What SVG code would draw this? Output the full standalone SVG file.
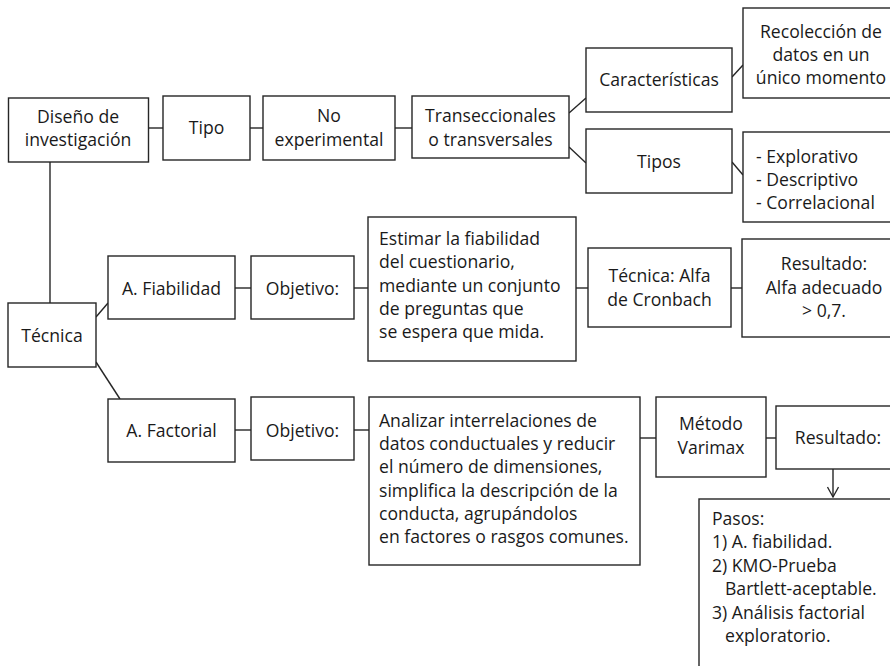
<svg xmlns="http://www.w3.org/2000/svg" width="890" height="666" viewBox="0 0 890 666">
<defs>
<style>
.b{fill:#fff;stroke:#262626;stroke-width:1.4}
.c{fill:none;stroke:#262626;stroke-width:1.4}
text{font-family:"Open Sans","Noto Sans","DejaVu Sans",sans-serif;font-size:17.6px;fill:#1a1a1a}
.m{text-anchor:middle}
</style>
<marker id="ah" viewBox="0 0 12 12" refX="11" refY="6" markerWidth="12" markerHeight="12" markerUnits="userSpaceOnUse" orient="auto">
<path d="M1,0.5 L11,6 L1,11.5" fill="none" stroke="#262626" stroke-width="1.3"/>
</marker>
</defs>
<rect width="890" height="666" fill="#fff"/>
<g id="connectors">
<line class="c" x1="148.5" y1="128" x2="163" y2="128"/>
<line class="c" x1="250" y1="128" x2="263" y2="128"/>
<line class="c" x1="395" y1="128" x2="412" y2="128"/>
<line class="c" x1="569" y1="113" x2="586" y2="98"/>
<line class="c" x1="569" y1="147" x2="586" y2="163"/>
<line class="c" x1="732" y1="77" x2="743" y2="65"/>
<line class="c" x1="732" y1="162" x2="743" y2="175"/>
<line class="c" x1="50" y1="162" x2="50" y2="303"/>
<line class="c" x1="96" y1="317" x2="108" y2="303"/>
<line class="c" x1="96" y1="362" x2="120" y2="399"/>
<line class="c" x1="235" y1="288" x2="251" y2="288"/>
<line class="c" x1="354" y1="288" x2="368" y2="288"/>
<line class="c" x1="576" y1="288" x2="588" y2="288"/>
<line class="c" x1="731" y1="288" x2="742" y2="288"/>
<line class="c" x1="235" y1="430" x2="251" y2="430"/>
<line class="c" x1="354" y1="430" x2="369" y2="430"/>
<line class="c" x1="640" y1="438" x2="656" y2="438"/>
<line class="c" x1="766" y1="438" x2="776" y2="438"/>
<line class="c" x1="833" y1="469" x2="833" y2="497" marker-end="url(#ah)"/>
</g>
<g id="diseno"><rect class="b" x="8.5" y="98" width="140" height="64"/>
<text class="m" x="78" y="123">Diseño de</text><text class="m" x="78" y="146">investigación</text></g>
<g id="tipo"><rect class="b" x="163" y="96" width="87" height="64"/>
<text class="m" x="206.5" y="134">Tipo</text></g>
<g id="noexp"><rect class="b" x="263" y="96" width="132" height="64"/>
<text class="m" x="329" y="122">No</text><text class="m" x="329" y="146">experimental</text></g>
<g id="trans"><rect class="b" x="412" y="96" width="157" height="62"/>
<text class="m" x="490.5" y="122">Transeccionales</text><text class="m" x="490.5" y="146">o transversales</text></g>
<g id="caract"><rect class="b" x="586" y="48" width="146" height="64"/>
<text class="m" x="659" y="86">Características</text></g>
<g id="recol"><rect class="b" x="743" y="8" width="156" height="90"/>
<text class="m" x="821" y="38">Recolección de</text><text class="m" x="821" y="61">datos en un</text><text class="m" x="821" y="84">único momento</text></g>
<g id="tipos"><rect class="b" x="586" y="129" width="146" height="64"/>
<text class="m" x="659" y="168">Tipos</text></g>
<g id="explor"><rect class="b" x="743" y="132" width="156" height="90"/>
<text x="756" y="163">- Explorativo</text><text x="756" y="186">- Descriptivo</text><text x="756" y="209">- Correlacional</text></g>
<g id="tecnica"><rect class="b" x="8" y="303" width="88" height="64"/>
<text class="m" x="52" y="342">Técnica</text></g>
<g id="afiab"><rect class="b" x="108" y="256" width="127" height="63"/>
<text class="m" x="171.5" y="295">A. Fiabilidad</text></g>
<g id="obj1"><rect class="b" x="251" y="256" width="103" height="63"/>
<text class="m" x="302.5" y="295">Objetivo:</text></g>
<g id="estimar"><rect class="b" x="368" y="217" width="208" height="144"/>
<text x="379" y="245">Estimar la fiabilidad</text><text x="379" y="268">del cuestionario,</text><text x="379" y="292">mediante un conjunto</text><text x="379" y="315">de preguntas que</text><text x="379" y="338">se espera que mida.</text></g>
<g id="alfa"><rect class="b" x="588" y="248" width="143" height="79"/>
<text class="m" x="659.5" y="282">Técnica: Alfa</text><text class="m" x="659.5" y="306">de Cronbach</text></g>
<g id="result1"><rect class="b" x="742" y="239" width="165" height="98"/>
<text class="m" x="824" y="270">Resultado:</text><text class="m" x="824" y="294">Alfa adecuado</text><text class="m" x="824" y="317">&gt; 0,7.</text></g>
<g id="afact"><rect class="b" x="108" y="399" width="127" height="63"/>
<text class="m" x="171.5" y="437">A. Factorial</text></g>
<g id="obj2"><rect class="b" x="251" y="397" width="103" height="63"/>
<text class="m" x="302.5" y="437">Objetivo:</text></g>
<g id="analizar"><rect class="b" x="369" y="397" width="271" height="168"/>
<text x="379" y="427">Analizar interrelaciones de</text><text x="379" y="450">datos conductuales y reducir</text><text x="379" y="473">el número de dimensiones,</text><text x="379" y="497">simplifica la descripción de la</text><text x="379" y="520">conducta, agrupándolos</text><text x="379" y="543">en factores o rasgos comunes.</text></g>
<g id="metodo"><rect class="b" x="656" y="397" width="110" height="80"/>
<text class="m" x="711" y="430">Método</text><text class="m" x="711" y="454">Varimax</text></g>
<g id="result2"><rect class="b" x="776" y="406" width="124" height="63"/>
<text class="m" x="838" y="444">Resultado:</text></g>
<g id="pasos"><rect class="b" x="699" y="499" width="200" height="180"/>
<text x="712" y="525">Pasos:</text><text x="712" y="548">1) A. fiabilidad.</text><text x="712" y="572">2) KMO-Prueba</text><text x="725" y="595">Bartlett-aceptable.</text><text x="712" y="619">3) Análisis factorial</text><text x="725" y="642">exploratorio.</text></g>
</svg>
